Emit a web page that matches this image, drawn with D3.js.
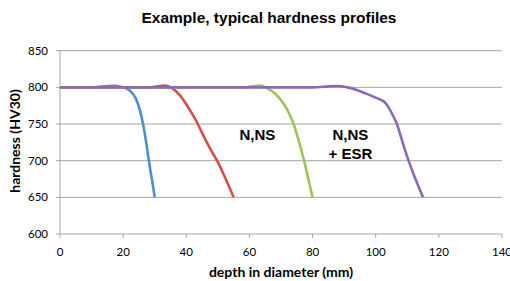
<!DOCTYPE html>
<html>
<head>
<meta charset="utf-8">
<script src="https://cdn.jsdelivr.net/npm/d3@7/dist/d3.min.js"></script>
<style>
  body { margin: 0; background: #fff; }
  svg text { fill: #000; }
</style>
</head>
<body>
<svg id="chart" width="510" height="281"></svg>
<script>
// hardness profiles: [depth mm, HV30]
var blueProfile = [[0,800],[10,800],[14,801.5],[17,802],[19.5,800.5],[22,796],[24,785],[25.3,769],[26.3,750],[27,733],[27.8,710],[28.5,690],[29.3,670],[30,650]];
var redProfile = [[0,800],[28,800],[31,801.5],[33.3,802.5],[35.5,799],[38,789],[40,777],[41.7,765],[43.3,753],[45,738],[46.5,725],[48,713],[50,698],[52.5,675],[55,650]];
var greenProfile = [[0,800],[58,800],[61,801.5],[63.4,802.5],[66,798],[68,792],[70.8,778],[72.5,765],[74,750],[75.5,729],[77.2,702],[78.6,676],[80,650]];
var purpleProfile = [[0,800],[60,800],[75,800],[80,800],[84,801],[88,801.8],[91,800],[94,796.5],[97,791.5],[100,786],[102.8,780],[104,773],[105.3,763],[106.7,750],[108.3,728],[110.4,700],[112.6,675],[115,650]];

var profiles = [blueProfile, redProfile, greenProfile, purpleProfile];
var profileColors = ["#4a8fd6", "#d4504b", "#9fc452", "#8a6ab4"];

var xTicks = [0, 20, 40, 60, 80, 100, 120, 140];
var yTicks = [600, 650, 700, 750, 800, 850];

var labels = [
  {x: 62.5, y: 728, lines: ["N,NS"]},
  {x: 92, y: 728, lines: ["N,NS", "+ ESR"]}
];

var svg = d3.select("#chart");

var x = d3.scaleLinear().domain([0, 140]).range([60, 502]);
var y = d3.scaleLinear().domain([600, 850]).range([234, 50.7]);

// title
svg.append("text")
  .attr("x", 269).attr("y", 23)
  .attr("text-anchor", "middle")
  .style("font-family", "Liberation Sans, Arial, sans-serif")
  .style("font-weight", "bold")
  .style("font-size", "15.5px")
  .text("Example, typical hardness profiles");

// horizontal gridlines, with the tick sticking out left
svg.append("g").selectAll("line")
  .data(yTicks)
  .enter().append("line")
  .attr("x1", 56).attr("x2", x(140))
  .attr("y1", function(d) { return y(d); })
  .attr("y2", function(d) { return y(d); })
  .style("stroke", "#a6a6a6")
  .style("stroke-width", 1);

// vertical axis line
svg.append("line")
  .attr("x1", x(0)).attr("x2", x(0))
  .attr("y1", y(850)).attr("y2", y(600))
  .style("stroke", "#a6a6a6");

// x ticks
svg.append("g").selectAll("line")
  .data(xTicks)
  .enter().append("line")
  .attr("x1", function(d) { return x(d); })
  .attr("x2", function(d) { return x(d); })
  .attr("y1", y(600)).attr("y2", y(600) + 4)
  .style("stroke", "#a6a6a6");

var tickFont = "Lato, 'Open Sans', sans-serif";

svg.append("g").selectAll("text")
  .data(xTicks)
  .enter().append("text")
  .attr("x", function(d) { return x(d); })
  .attr("y", 256)
  .attr("text-anchor", "middle")
  .style("font-family", tickFont)
  .style("font-size", "11.5px")
  .text(function(d) { return d; });

svg.append("g").selectAll("text")
  .data(yTicks)
  .enter().append("text")
  .attr("x", 48)
  .attr("y", function(d) { return y(d) + 4; })
  .attr("text-anchor", "end")
  .style("font-family", tickFont)
  .style("font-size", "11.5px")
  .text(function(d) { return d; });

// axis titles
svg.append("text")
  .attr("x", 281).attr("y", 277)
  .attr("text-anchor", "middle")
  .style("font-family", tickFont)
  .style("font-weight", "bold")
  .style("font-size", "14px")
  .text("depth in diameter (mm)");

svg.append("text")
  .attr("transform", "translate(20,141) rotate(-90)")
  .attr("text-anchor", "middle")
  .style("font-family", tickFont)
  .style("font-weight", "bold")
  .style("font-size", "14px")
  .text("hardness (HV30)");

// profile lines
var line = d3.line()
  .x(function(d) { return x(d[0]); })
  .y(function(d) { return y(d[1]); })
  .curve(d3.curveMonotoneX);

svg.append("g").selectAll("path")
  .data(profiles)
  .enter().append("path")
  .attr("d", line)
  .style("fill", "none")
  .style("stroke", function(d, i) { return profileColors[i]; })
  .style("stroke-width", 2.6)
  .style("stroke-linejoin", "round");

// annotations
labels.forEach(function(l) {
  var t = svg.append("text")
    .attr("text-anchor", "middle")
    .style("font-family", "Liberation Sans, Arial, sans-serif")
    .style("font-weight", "bold")
    .style("font-size", "15px");
  l.lines.forEach(function(s, i) {
    t.append("tspan")
      .attr("x", x(l.x))
      .attr("y", y(l.y) + i * 18.5)
      .text(s);
  });
});
</script>
</body>
</html>
